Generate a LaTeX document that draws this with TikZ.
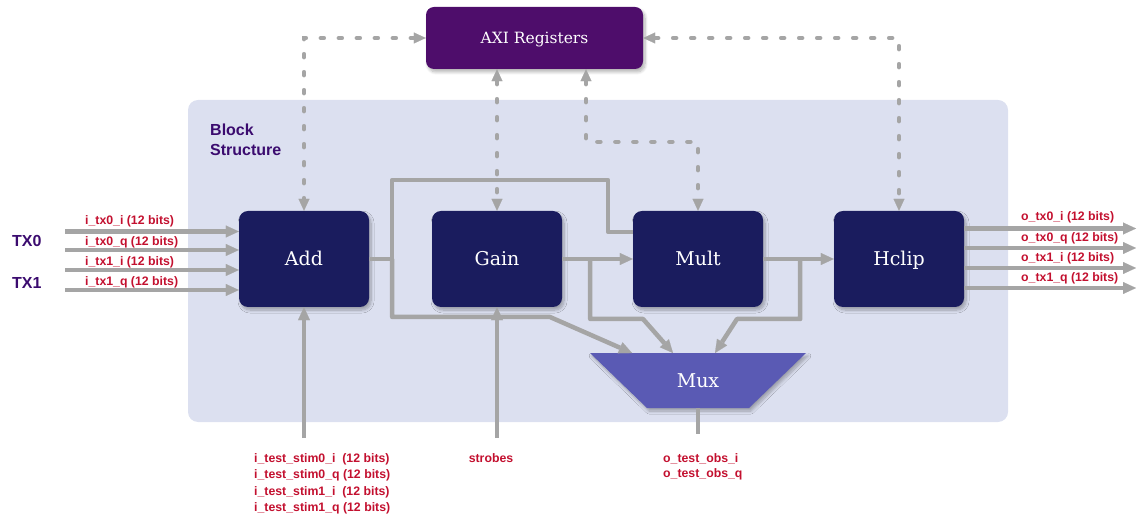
\documentclass[tikz,border=0pt]{standalone}
\usepackage{fontspec}
\setmainfont{DejaVu Serif}
\newfontfamily\sigfont{Liberation Sans}
\usetikzlibrary{arrows.meta,calc,backgrounds,shadows.blur}

\definecolor{panelbg}{HTML}{DCE0F0}
\definecolor{navy}{HTML}{1A1C5E}
\definecolor{axipurple}{HTML}{4E0D6B}
\definecolor{muxfill}{HTML}{5A5AB4}
\definecolor{wiregray}{HTML}{A5A5A5}
\definecolor{sigred}{HTML}{C3102F}
\definecolor{titlepurple}{HTML}{3B0B6F}

\tikzset{
  softshadow/.style={blur shadow={shadow xshift=2pt, shadow yshift=-3pt,
      shadow blur radius=3pt, shadow blur steps=8, shadow opacity=30}},
  block/.style={rounded corners=9pt, fill=navy, text=white, inner sep=0pt,
      minimum width=130pt, minimum height=96pt,
      text height=13.9pt, text depth=0pt,
      font=\fontsize{19}{22}\selectfont, softshadow},
  axibox/.style={rounded corners=8pt, fill=axipurple, text=white, inner sep=0pt,
      minimum width=217pt, minimum height=62pt,
      text height=11.3pt, text depth=0pt,
      font=\fontsize{15.5}{18}\selectfont, softshadow},
  muxnode/.style={inner sep=0pt, outer sep=0pt, minimum width=216pt,
      minimum height=55pt, text=white, font=\fontsize{19}{22}\selectfont},
  wire/.style={draw=wiregray, line width=4.5pt, line join=round},
  arrow/.style={wire, -{Triangle[length=13pt,width=12pt,line width=0.1pt]}},
  dots/.style={draw=wiregray, line width=4.5pt, line cap=round,
      dash pattern=on 3pt off 15pt,
      {Triangle[length=12pt,width=11pt,line width=0.1pt]}-{Triangle[length=12pt,width=11pt,line width=0.1pt]}},
  sig/.style={text=sigred, inner sep=0pt, anchor=base west,
      font={\sigfont\fontsize{12.3}{14}\selectfont\bfseries}},
  title/.style={text=titlepurple, inner sep=0pt, anchor=base west,
      font={\sigfont\fontsize{16}{19}\selectfont\bfseries}},
}

\begin{document}
\begin{tikzpicture}[x=1pt,y=-1pt]
\useasboundingbox (0,0) rectangle (1137,518);

% processing blocks and register bank
\node[block] (add)   at (304,259) {Add};
\node[block] (gain)  at (497,259) {Gain};
\node[block] (mult)  at (698,259) {Mult};
\node[block] (hclip) at (899,259) {Hclip};
\node[axibox] (axi)  at (534.5,38) {AXI Registers};
\node[muxnode] (mux) at (698,380.5) {Mux};

% panel and mux body behind everything
\begin{pgfonlayer}{background}
  \fill[panelbg, rounded corners=10pt] (188,100) rectangle (1008,422);
  \fill[muxfill, softshadow] (mux.north west) -- (mux.north east)
     -- ($(mux.south east)+(-57,0)$) -- ($(mux.south west)+(57,0)$) -- cycle;
\end{pgfonlayer}

% block structure title
\node[title] (bs1) at (210,136) {Block};
\node[title] (bs2) at (210,156) {Structure};

% internal data path
\coordinate (j1)  at ($(add.east)+(23,0)$);
\coordinate (bp1) at (608,180);
\coordinate (bp2) at (550,317);
\coordinate (j2)  at ($(gain.east)+(28,0)$);
\coordinate (bp3) at (643,319);
\coordinate (j3)  at ($(mult.east)+(37,0)$);
\coordinate (bp4) at (737,319);
\coordinate (muxout) at (698,434);

\draw[wire]  (add.east) -- (j1) |- (bp1) |- ($(mult.north west)+(0,21)$);
\draw[arrow] (j1) |- (bp2) -- ($(mux.north)+(-66,0)$);
\draw[arrow] (gain.east) -- (mult.west);
\draw[arrow] (j2) |- (bp3) -- ($(mux.north)+(-25,0)$);
\draw[arrow] (mult.east) -- (hclip.west);
\draw[arrow] (j3) |- (bp4) -- ($(mux.north)+(17,0)$);
\draw[wire]  (mux.south) -- (muxout);

% register bus
\coordinate (ax2) at ($(axi.south)+(51.5,0)$);
\draw[dots] (axi.west) -| (add.north);
\draw[dots] (axi.south -| gain.north) -- (gain.north);
\draw[dots] (ax2) |- ($(mult.north)+(0,-69)$) -- (mult.north);
\draw[dots] (axi.east) -| (hclip.north);

% input ports
\coordinate (in0) at (65,231.5);
\coordinate (in1) at (65,250);
\coordinate (in2) at (65,270);
\coordinate (in3) at (65,290);
\draw[arrow] (in0) -- (in0 -| add.west);
\draw[arrow] (in1) -- (in1 -| add.west);
\draw[arrow] (in2) -- (in2 -| add.west);
\draw[arrow] (in3) -- (in3 -| add.west);
\node[title] (tx0) at (12,247) {TX0};
\node[title] (tx1) at (12,289) {TX1};
\node[sig] (li0) at (85,225)   {i\_tx0\_i (12 bits)};
\node[sig] (li1) at (85,246)   {i\_tx0\_q (12 bits)};
\node[sig] (li2) at (85,266)   {i\_tx1\_i (12 bits)};
\node[sig] (li3) at (85,285.5) {i\_tx1\_q (12 bits)};

% output ports
\coordinate (out0) at (1136,228.5);
\coordinate (out1) at (1136,248);
\coordinate (out2) at (1136,268);
\coordinate (out3) at (1136,288);
\draw[arrow] (out0 -| hclip.east) -- (out0);
\draw[arrow] (out1 -| hclip.east) -- (out1);
\draw[arrow] (out2 -| hclip.east) -- (out2);
\draw[arrow] (out3 -| hclip.east) -- (out3);
\node[sig] (lo0) at (1021,221)   {o\_tx0\_i (12 bits)};
\node[sig] (lo1) at (1021,241.5) {o\_tx0\_q (12 bits)};
\node[sig] (lo2) at (1021,262)   {o\_tx1\_i (12 bits)};
\node[sig] (lo3) at (1021,282)   {o\_tx1\_q (12 bits)};

% test stimulus, strobes and observation port
\coordinate (stim) at (304,438);
\coordinate (strb) at (497,438);
\draw[arrow] (stim) -- (add.south);
\draw[arrow] (strb) -- (gain.south);
\node[sig] (ls0) at (254,462)   {i\_test\_stim0\_i\ \ (12 bits)};
\node[sig] (ls1) at (254,478.5) {i\_test\_stim0\_q (12 bits)};
\node[sig] (ls2) at (254,495)   {i\_test\_stim1\_i\ \ (12 bits)};
\node[sig] (ls3) at (254,511)   {i\_test\_stim1\_q (12 bits)};
\node[sig, anchor=base] (lst) at (491,462) {strobes};
\node[sig] (lt0) at (663,462) {o\_test\_obs\_i};
\node[sig] (lt1) at (663,477) {o\_test\_obs\_q};
\end{tikzpicture}
\end{document}
